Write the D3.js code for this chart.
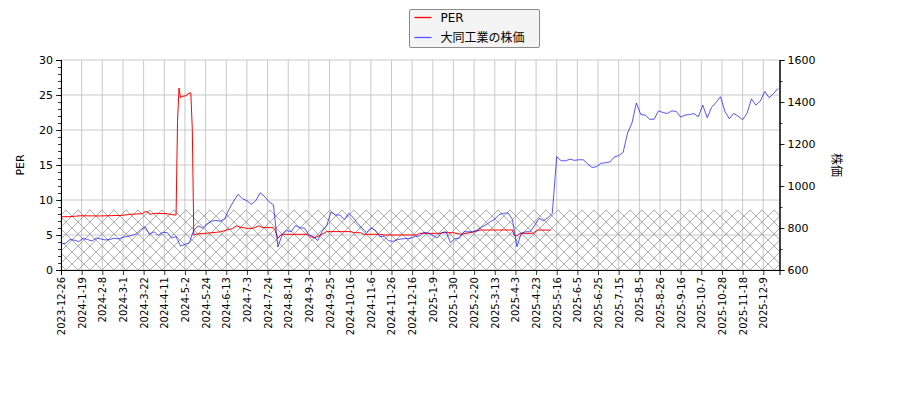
<!DOCTYPE html>
<html>
<head>
<meta charset="utf-8">
<script src="https://cdn.jsdelivr.net/npm/d3@7"></script>
<style>
  html, body { margin: 0; padding: 0; background: #fff; }
  svg { display: block; }
  text { font-family: "DejaVu Sans", sans-serif; fill: #000; }
</style>
</head>
<body>
<svg id="chart" width="900" height="400"></svg>
<script>
// ---- data ----
const tickLabels = ["2023-12-26","2024-1-19","2024-2-8","2024-3-1","2024-3-22","2024-4-11","2024-5-2","2024-5-24","2024-6-13","2024-7-3","2024-7-24","2024-8-14","2024-9-3","2024-9-25","2024-10-16","2024-11-6","2024-11-26","2024-12-16","2025-1-9","2025-1-30","2025-2-20","2025-3-13","2025-4-3","2025-4-23","2025-5-16","2025-6-5","2025-6-25","2025-7-15","2025-8-5","2025-8-26","2025-9-16","2025-10-7","2025-10-28","2025-11-18","2025-12-9"];
const tickEvery = 14;        // trading days between labelled ticks
const lastDay = 487;         // last trading-day index shown
const priceStep = 3;         // trading days between price samples
const priceValues = [724,727,745,742,735,751,745,738,752,748,
 743,745,751,748,756,760,765,772,792,806,
 770,782,765,780,778,752,759,714,722,730,
 790,810,800,820,832,836,832,845,890,928,
 960,940,930,912,930,968,950,925,910,710,
 770,788,782,812,800,800,767,760,740,785,
 810,876,862,862,840,870,850,822,800,778,
 800,790,760,760,740,736,745,748,750,751,
 760,762,780,775,765,752,778,782,730,750,
 751,782,782,782,790,803,815,830,842,864,
 870,872,840,711,775,782,782,812,846,835,
 848,870,1140,1120,1120,1128,1122,1125,1125,1105,
 1088,1092,1108,1111,1114,1138,1145,1160,1252,1300,
 1395,1340,1338,1318,1318,1358,1350,1345,1358,1355,
 1328,1338,1340,1345,1330,1385,1325,1375,1398,1425,
 1355,1320,1346,1332,1316,1346,1415,1385,1405,1450,
 1420,1440,1465];
const perDays = [0,6,13,26,41,47,55,57,59,60,64,72,75,78,79,80,81,82,85,86,88,89,90,92,101,108,112,116,119,122,126,130,134,137,144,145,147,149,151,167,169,172,176,180,196,199,203,205,216,219,241,243,257,259,266,271,279,284,306,307,309,311,320,323,332];
const perValues = [7.6,7.62,7.75,7.72,7.8,7.95,8.05,8.33,8.3,7.95,8.1,8.05,7.9,7.85,21.4,26.0,24.6,24.8,24.9,25.2,25.3,20.1,5.0,5.14,5.3,5.45,5.7,5.9,6.3,6.1,5.95,5.95,6.3,6.05,6.05,5.7,4.52,5.0,5.1,5.1,4.76,4.6,5.0,5.48,5.48,5.33,5.33,5.1,5.1,5.0,5.0,5.24,5.24,5.33,5.33,5.1,5.4,5.71,5.71,5.0,4.86,5.24,5.24,5.71,5.7];
const hatchLevel = 8.6;      // PER band shown hatched
const perTicks = [0,5,10,15,20,25,30];
const priceTicks = [600,800,1000,1200,1400,1600];
const seriesNames = ["PER", "大同工業の株価"];

// ---- layout ----
const L = 61, R = 779.5, T = 60, B = 270;
const svg = d3.select("#chart");

const x = d3.scaleLinear().domain([0, lastDay]).range([L, R]);
const yL = d3.scaleLinear().domain([0, 30]).range([B, T]);
const yR = d3.scaleLinear().domain([600, 1600]).range([B, T]);

// hatch pattern
const defs = svg.append("defs");
const pat = defs.append("pattern").attr("id", "hatch")
  .attr("patternUnits", "userSpaceOnUse").attr("width", 12).attr("height", 12);
pat.append("path").attr("d", "M-3,-3 L15,15 M15,-3 L-3,15")
  .attr("stroke", "#9a9a9a").attr("stroke-width", 0.8).attr("fill", "none");
defs.append("clipPath").attr("id", "plotclip").append("rect")
  .attr("x", L).attr("y", T).attr("width", R - L).attr("height", B - T);

// grid
const tickIdx = tickLabels.map((d, i) => i * tickEvery);
const grid = svg.append("g");
grid.selectAll("line.vx").data(tickIdx).join("line")
  .attr("x1", d => x(d)).attr("x2", d => x(d)).attr("y1", T).attr("y2", B)
  .attr("stroke", "#c8c8c8").attr("stroke-width", 1);
grid.selectAll("line.hy").data(perTicks).join("line")
  .attr("x1", L).attr("x2", R).attr("y1", d => yL(d)).attr("y2", d => yL(d))
  .attr("stroke", "#c8c8c8").attr("stroke-width", 1);

// hatched band
svg.append("rect")
  .attr("x", x(0)).attr("width", x(lastDay) - x(0))
  .attr("y", yL(hatchLevel)).attr("height", yL(0) - yL(hatchLevel))
  .attr("fill", "url(#hatch)");

// lines
const plot = svg.append("g").attr("clip-path", "url(#plotclip)");
const perData = perDays.map((d, i) => [d, perValues[i]]);
const priceData = priceValues.map((v, i) => [i * priceStep, v]);
plot.append("path").datum(perData)
  .attr("d", d3.line().x(d => x(d[0])).y(d => yL(d[1])))
  .attr("fill", "none").attr("stroke", "#ff0000").attr("stroke-width", 1);
plot.append("path").datum(priceData)
  .attr("d", d3.line().x(d => x(d[0])).y(d => yR(d[1])))
  .attr("fill", "none").attr("stroke", "#0000ff").attr("stroke-opacity", 0.75).attr("stroke-width", 0.9);

// axes
const axL = d3.axisLeft(yL).tickValues(perTicks).tickSize(5).tickPadding(3);
const gL = svg.append("g").attr("transform", `translate(${L},0)`).call(axL);
const axLm = d3.axisLeft(yL).tickValues(d3.range(0, 31, 1)).tickSize(3).tickFormat("");
svg.append("g").attr("transform", `translate(${L},0)`).call(axLm);

const axR = d3.axisRight(yR).tickValues(priceTicks).tickSize(5).tickPadding(3).tickFormat(d3.format("d"));
const gR = svg.append("g").attr("transform", `translate(${R},0)`).call(axR);
const axRm = d3.axisRight(yR).tickValues(d3.range(600, 1601, 100)).tickSize(3).tickFormat("");
svg.append("g").attr("transform", `translate(${R},0)`).call(axRm);

const axB = d3.axisBottom(x).tickValues(tickIdx).tickSize(5).tickFormat((d, i) => tickLabels[i]);
const gB = svg.append("g").attr("transform", `translate(0,${B})`).call(axB);
gB.selectAll("text")
  .attr("transform", "rotate(-90)")
  .attr("text-anchor", "end")
  .attr("x", -7).attr("y", 0).attr("dy", "0.35em")
  .style("font-size", "10px");

svg.selectAll(".domain").attr("stroke", "#000").attr("stroke-width", 1);
svg.selectAll(".tick line").attr("stroke", "#000").attr("stroke-width", 0.8);
gL.selectAll("text").style("font-size", "11px");
gR.selectAll("text").style("font-size", "11px");
svg.selectAll(".tick text").attr("fill", "#000");

// axis titles
svg.append("text").attr("transform", `translate(24,${(T + B) / 2}) rotate(-90)`)
  .attr("text-anchor", "middle").style("font-size", "11px").text("PER");
svg.append("text").attr("transform", `translate(832,${(T + B) / 2}) rotate(90)`)
  .attr("text-anchor", "middle").style("font-size", "12px")
  .style("font-family", "'Noto Sans CJK JP', sans-serif").text("株価");

// legend
const lg = svg.append("g").attr("transform", "translate(409.5,9.5)");
lg.append("rect").attr("width", 130).attr("height", 38).attr("rx", 1.5)
  .attr("fill", "#f4f4f4").attr("stroke", "#8a8a8a").attr("stroke-width", 1);
const legendColors = ["#ff0000", "#5555ff"];
seriesNames.forEach((name, i) => {
  const yy = 8 + i * 20;
  lg.append("line").attr("x1", 5).attr("x2", 22).attr("y1", yy).attr("y2", yy)
    .attr("stroke", legendColors[i]).attr("stroke-width", 1.3);
  lg.append("text").attr("x", 31).attr("y", yy).attr("dy", "0.35em")
    .style("font-size", "12px")
    .style("font-family", i === 0 ? "'DejaVu Sans', sans-serif" : "'Noto Sans CJK JP', sans-serif")
    .text(name);
});
</script>
</body>
</html>
